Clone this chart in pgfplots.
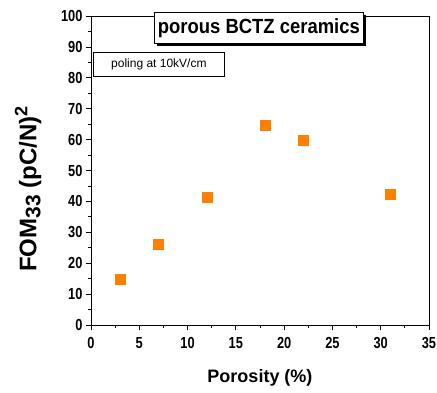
\documentclass[border=0pt]{standalone}
\usepackage{pgfplots}
\pgfplotsset{compat=1.18}
\usepackage{fontspec}
\setmainfont{Liberation Sans}
\newfontfamily\condfont[FakeStretch=0.8]{Liberation Sans}
\newfontfamily\titlefont[FakeStretch=0.9]{Liberation Sans}
\usetikzlibrary{shadows}
\definecolor{myorange}{RGB}{255,128,0}
\begin{document}
\begin{tikzpicture}
\useasboundingbox (-91pt,-67pt) rectangle (346pt,325pt);
\begin{axis}[
  at={(0pt,0pt)}, anchor=origin,
  scale only axis, width=338pt, height=309pt,
  xmin=0, xmax=35, ymin=0, ymax=100,
  xtick={0,5,...,35}, ytick={0,10,...,100},
  minor x tick num=1, minor y tick num=1,
  xtick pos=bottom, ytick pos=left,
  tick align=outside,
  major tick length=5pt, minor tick length=3pt,
  every tick/.style={black, line width=0.8pt},
  axis line style={line width=0.8pt},
  /pgf/number format/assume math mode=true,
  ticklabel style={font=\condfont\fontsize{16}{18}\selectfont\bfseries},
  xticklabel style={yshift=-4pt},
  yticklabel style={xshift=0pt},
  xlabel={Porosity (\%)},
  ylabel={FOM\raisebox{-4pt}{\fontsize{21}{22}\selectfont 33} (pC/N)\raisebox{9pt}{\fontsize{18}{18}\selectfont 2}},
  xlabel style={font=\fontsize{18}{20}\selectfont\bfseries, at={(axis description cs:0.5,-0.1715)}, anchor=center},
  ylabel style={font=\fontsize{24}{26}\selectfont\bfseries, at={(axis description cs:-0.186,0.44)}, anchor=center, rotate=0},
  clip=false,
]
\addplot[only marks, mark=square*, mark size=5pt, color=myorange] coordinates {
  (3,14.7) (7,26.3) (12,41.4) (18,64.7) (22,59.7) (31,42.4)
};
\node[draw=black, line width=0.8pt, fill=white, anchor=north west, minimum width=131pt, minimum height=24pt, inner sep=0pt,
  font=\fontsize{12}{13}\selectfont] at (2pt,-36pt+309pt) {poling at 10kV/cm};
\node[draw=black, line width=0.8pt, fill=white, anchor=north west, minimum width=209pt, minimum height=31pt, inner sep=0pt,
  font=\titlefont\fontsize{20.5}{22}\selectfont\bfseries,
  drop shadow={shadow xshift=3pt, shadow yshift=-3pt, fill=black, opacity=1}] at (63pt,313pt) {porous BCTZ ceramics};
\end{axis}
\end{tikzpicture}
\end{document}
